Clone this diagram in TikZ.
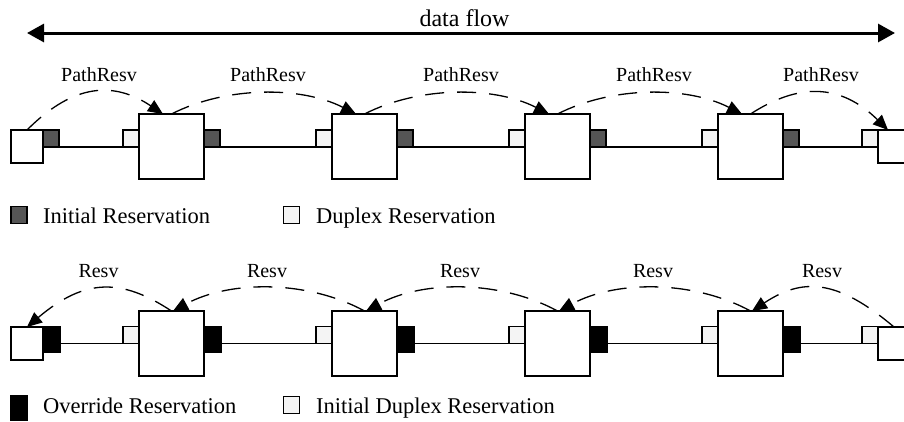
\documentclass[tikz,border=0pt]{standalone}
\usepackage{fontspec}
\setmainfont{Liberation Serif}
\usetikzlibrary{arrows.meta,calc}
\definecolor{initgray}{HTML}{555555}
\definecolor{duplight}{HTML}{F4F4F4}

\begin{document}
\begin{tikzpicture}[x=1pt,y=-1pt,
  box/.style={draw,line width=1.3pt,inner sep=0pt,outer sep=0pt},
  router/.style={box,fill=white,minimum width=65pt,minimum height=65pt},
  host/.style={box,fill=white,minimum width=32pt,minimum height=33pt},
  dupres/.style={box,fill=duplight,minimum width=16pt,minimum height=17pt},
  initres/.style={box,fill=initgray,minimum width=16pt,minimum height=17pt},
  overres/.style={box,fill=black,minimum width=17pt,minimum height=25pt},
  link/.style={line width=1.3pt},
  msg/.style={line width=1.3pt,dash pattern=on 19pt off 13pt,
    -{Triangle[length=15pt,width=13pt]}},
  lbl/.style={font=\fontsize{20}{24}\selectfont,anchor=base,inner sep=0pt},
  legend/.style={font=\fontsize{22.5}{27}\selectfont,anchor=base west,inner sep=0pt}
]
\useasboundingbox (0,0) rectangle (904,421);

% ---- data flow direction ----
\coordinate (fl) at (27,33);
\coordinate (fr) at (895,33);
\draw[line width=3pt,{Triangle[length=17pt,width=18pt]}-{Triangle[length=17pt,width=18pt]}] (fl) -- (fr);
\node[font=\fontsize{24}{28}\selectfont,anchor=base,inner sep=0pt] (df) at (464.5,26) {data flow};

% ---- upper chain: PathResv ----
\node[host] (hA) at (27,146.5) {};
\node[host] (hB) at (894,146.5) {};
\node[initres] (iA0) at (51,138.5) {};
\node[dupres] (dB) at (870,138.5) {};
\foreach \i in {1,...,4}{
  \pgfmathsetmacro\cx{171.5+193*(\i-1)}
  \node[router] (rA\i) at (\cx,146.5) {};
  \node[dupres] (dA\i) at (\cx-40.5,138.5) {};
  \node[initres] (iA\i) at (\cx+40.5,138.5) {};
}
\draw[link] (iA0.south east) -- (dA1.south west);
\foreach \i/\j in {1/2,2/3,3/4}{
  \draw[link] (iA\i.south east) -- (dA\j.south west);
}
\draw[link] (iA4.south east) -- (dB.south west);

\draw[msg] (hA.north) .. controls +(48,-48) and +(-48,-32) .. ($(rA1.north west)+(24,0)$);
\foreach \i/\j in {1/2,2/3,3/4}{
  \draw[msg] (rA\i.north) .. controls +(55,-28) and +(-55,-28) .. ($(rA\j.north west)+(24,0)$);
}
\draw[msg] (rA4.north) .. controls +(48,-31) and +(-48,-47) .. ($(hB.north west)+(10,0)$);

\foreach \n/\x in {1/99,2/268,3/461,4/654,5/821}{
  \node[lbl] (pA\n) at (\x,81) {PathResv};
}

% ---- legend, upper ----
\node[initres] (lgI) at (19,215) {};
\node[legend] (lgIt) at (43,223) {Initial Reservation};
\node[dupres] (lgD) at (291.5,215) {};
\node[legend] (lgDt) at (316,223) {Duplex Reservation};

% ---- lower chain: Resv ----
\node[host] (hC) at (27,343.5) {};
\node[host] (hD) at (894,343.5) {};
\node[overres] (oC0) at (51.5,339.5) {};
\node[dupres] (dD) at (870,335) {};
\foreach \i in {1,...,4}{
  \pgfmathsetmacro\cx{171.5+193*(\i-1)}
  \node[router] (rC\i) at (\cx,343.5) {};
  \node[dupres] (dC\i) at (\cx-40.5,335) {};
  \node[overres] (oC\i) at (\cx+41,339.5) {};
}
\draw[link] (oC0.east |- dC1.south west) -- (dC1.south west);
\foreach \i/\j in {1/2,2/3,3/4}{
  \draw[link] (oC\i.east |- dC\j.south west) -- (dC\j.south west);
}
\draw[link] (oC4.east |- dD.south west) -- (dD.south west);

\draw[msg] (rC1.north) .. controls +(-50,-33) and +(58,-49) .. (hC.north);
\foreach \i/\j in {1/2,2/3,3/4}{
  \draw[msg] (rC\j.north) .. controls +(-57,-31) and +(57,-31) .. ($(rC\i.north west)+(34,0)$);
}
\draw[msg] (hD.north) .. controls +(-58,-49) and +(50,-33) .. ($(rC4.north west)+(34,0)$);

\foreach \n/\x in {1/98.5,2/267,3/460,4/653,5/822}{
  \node[lbl] (pC\n) at (\x,277) {Resv};
}

% ---- legend, lower ----
\node[overres,minimum width=16pt,minimum height=24pt] (lgO) at (19,408) {};
\node[legend] (lgOt) at (43,413) {Override Reservation};
\node[dupres] (lgE) at (291.5,405) {};
\node[legend] (lgEt) at (316,413) {Initial Duplex Reservation};
\end{tikzpicture}
\end{document}
